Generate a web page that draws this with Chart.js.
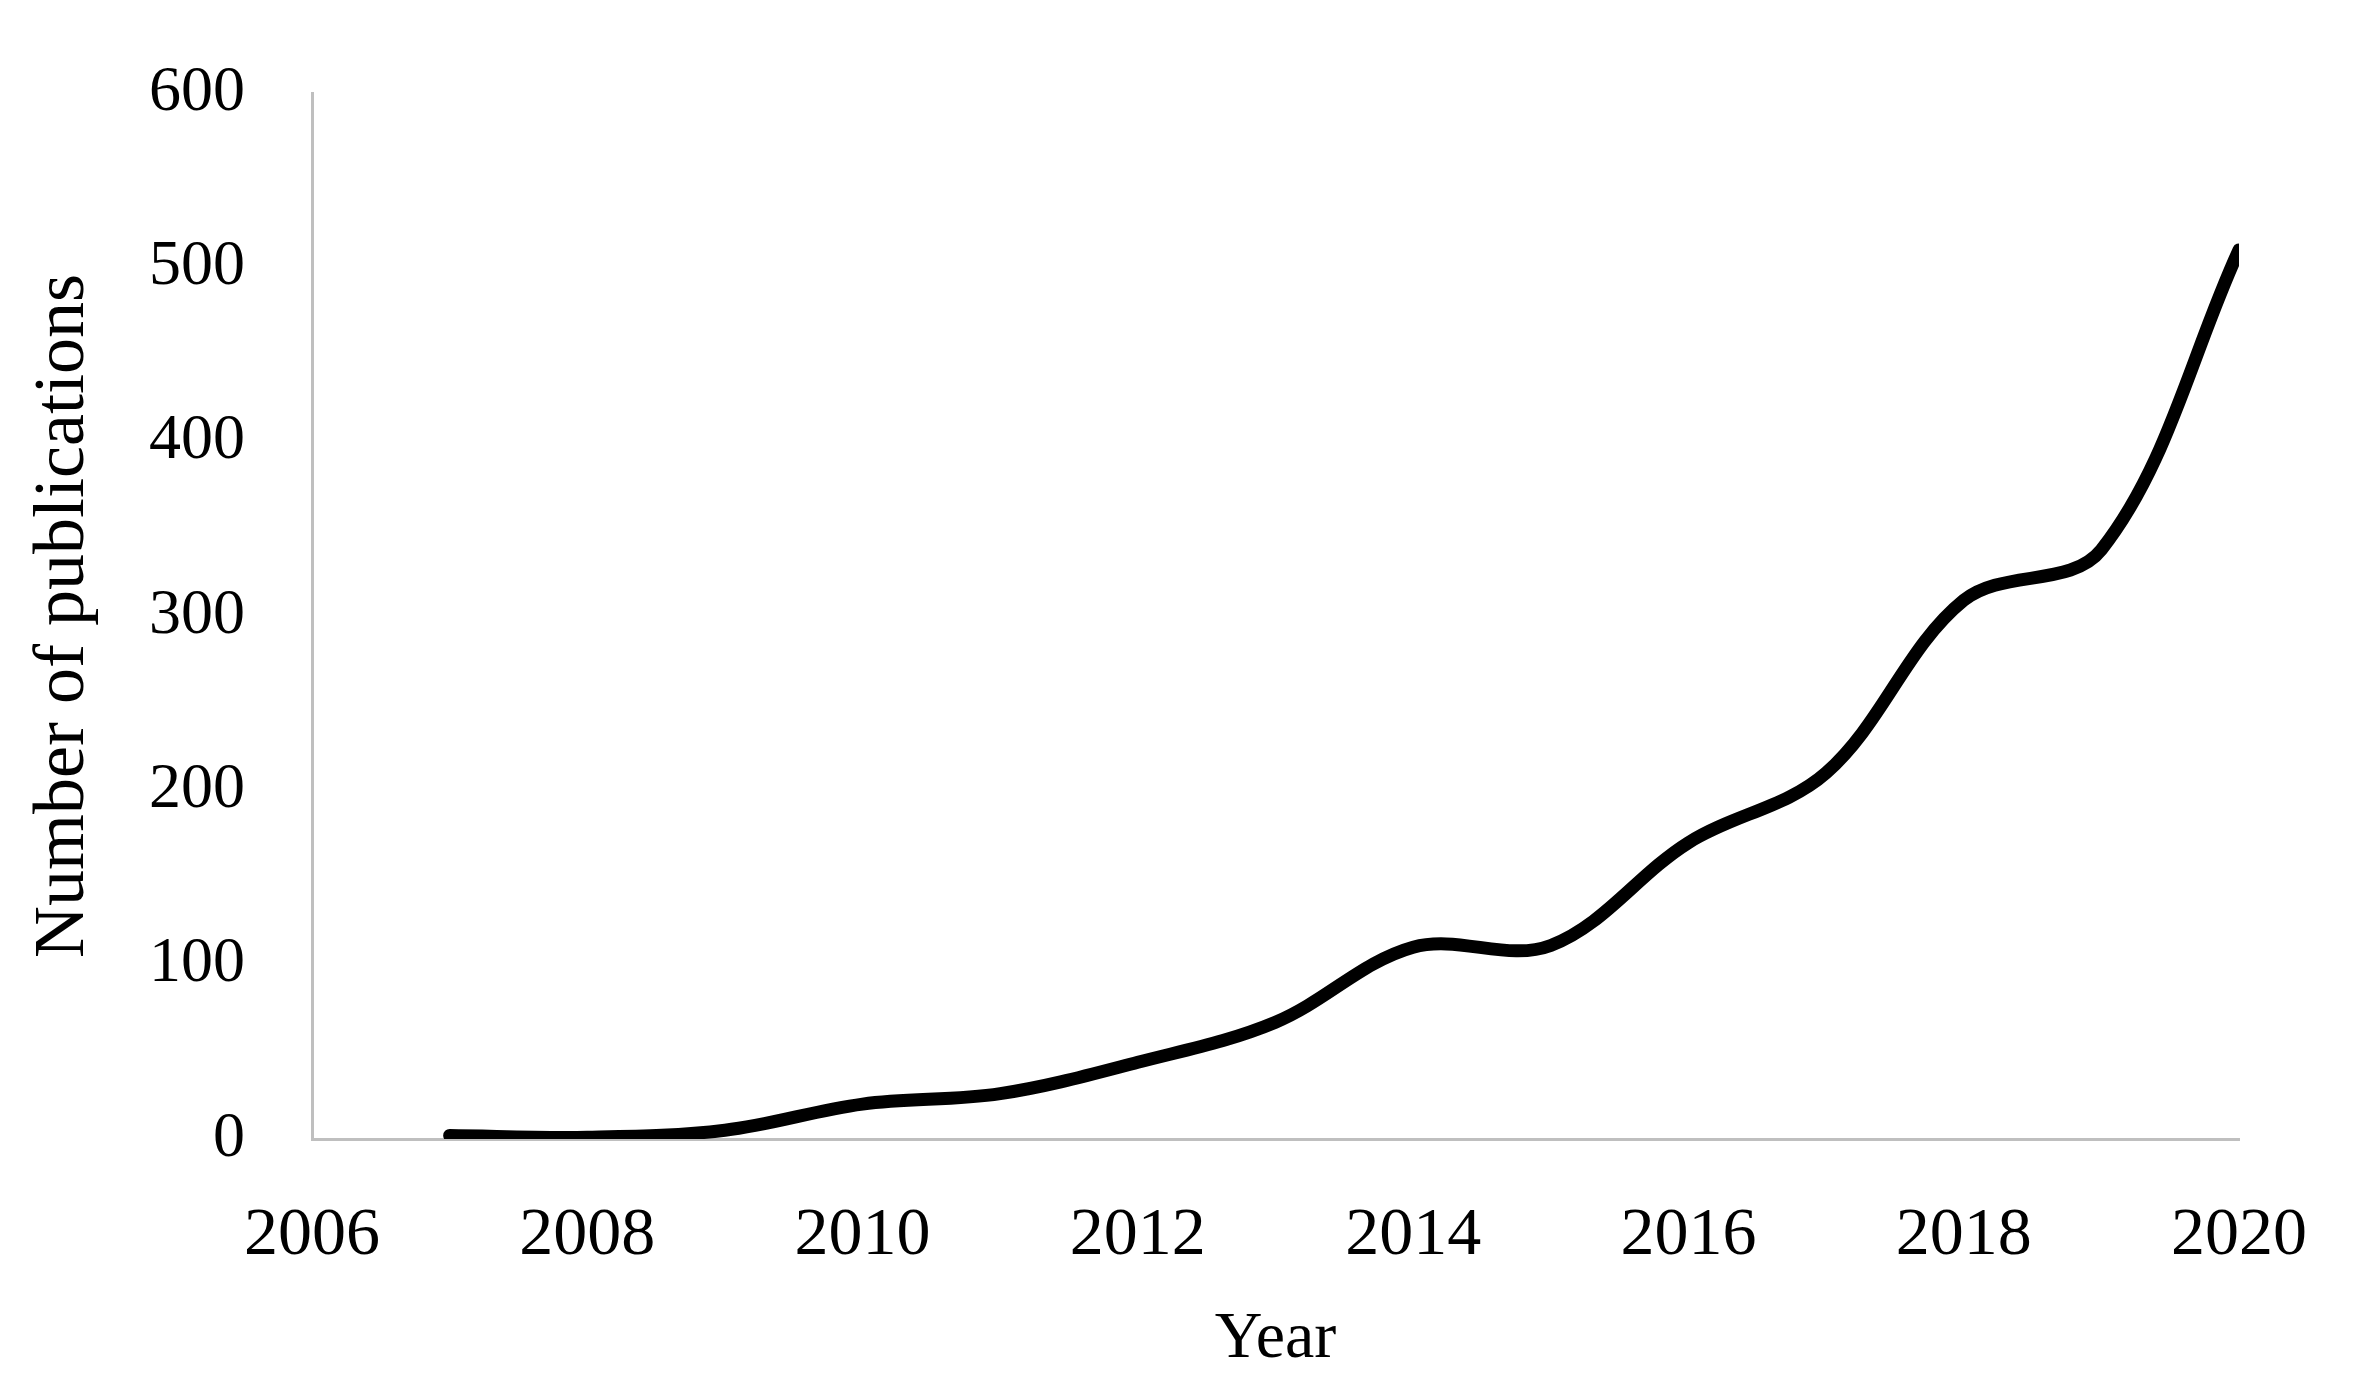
<!DOCTYPE html>
<html>
<head>
<meta charset="utf-8">
<title>Number of publications</title>
<script src="https://cdn.jsdelivr.net/npm/chart.js@4"></script>
<style>
    html, body { margin: 0; padding: 0; background: #ffffff; }
    #wrap { width: 2364px; height: 1400px; }
</style>
</head>
<body>
<div id="wrap"><canvas id="pubChart" width="2364" height="1400"></canvas></div>
<script>
    const years = [2007, 2008, 2009, 2010, 2011, 2012, 2013, 2014, 2015, 2016, 2017, 2018, 2019, 2020];
    const publications = [2, 1, 5, 20, 26, 44, 67, 110, 111, 170, 210, 309, 338, 510];
    const xTicks = [2006, 2008, 2010, 2012, 2014, 2016, 2018, 2020];
    const yTicks = [0, 100, 200, 300, 400, 500, 600];

    const serif = "'Liberation Serif', 'Times New Roman', serif";
    const axisGray = '#bfbfbf';

    const points = years.map((yr, i) => ({ x: yr, y: publications[i] }));

    const ctx = document.getElementById('pubChart').getContext('2d');
    const pubChart = new Chart(ctx, {
        type: 'line',
        data: {
            datasets: [{
                label: 'Publications',
                data: points,
                borderColor: '#000000',
                backgroundColor: '#000000',
                borderWidth: 13,
                borderCapStyle: 'round',
                tension: 0.35,
                pointRadius: 0,
                fill: false
            }]
        },
        options: {
            responsive: false,
            animation: false,
            layout: {
                padding: { top: 93, right: 125, bottom: 0, left: 0 }
            },
            plugins: {
                legend: { display: false },
                tooltip: { enabled: false }
            },
            scales: {
                x: {
                    type: 'linear',
                    min: xTicks[0],
                    max: xTicks[xTicks.length - 1],
                    afterBuildTicks: scale => {
                        scale.ticks = xTicks.map(v => ({ value: v }));
                    },
                    afterFit: scale => {
                        scale.height = 261;
                        scale.paddingLeft = 0;
                        scale.paddingRight = 0;
                    },
                    ticks: {
                        color: '#000000',
                        padding: 56,
                        maxRotation: 0,
                        font: { family: serif, size: 68 },
                        callback: v => String(v)
                    },
                    grid: { drawOnChartArea: false, drawTicks: false },
                    border: { display: true, color: axisGray, width: 3 },
                    title: {
                        display: true,
                        text: 'Year',
                        color: '#000000',
                        padding: { top: 0, bottom: 21 },
                        font: { family: serif, size: 66 }
                    }
                },
                y: {
                    min: yTicks[0],
                    max: yTicks[yTicks.length - 1],
                    afterBuildTicks: scale => {
                        scale.ticks = yTicks.map(v => ({ value: v }));
                    },
                    afterFit: scale => {
                        // ticks.padding would otherwise push the plot top down
                        scale.width = 312;
                        scale.paddingTop = 0;
                        scale.paddingBottom = 0;
                    },
                    ticks: {
                        color: '#000000',
                        padding: 67,
                        font: { family: serif, size: 64 },
                        callback: v => String(v)
                    },
                    grid: { drawOnChartArea: false, drawTicks: false },
                    border: { display: true, color: axisGray, width: 3 },
                    title: {
                        display: true,
                        text: 'Number of publications',
                        color: '#000000',
                        padding: { top: 21, bottom: 0 },
                        font: { family: serif, size: 72 }
                    }
                }
            }
        }
    });
</script>
</body>
</html>
